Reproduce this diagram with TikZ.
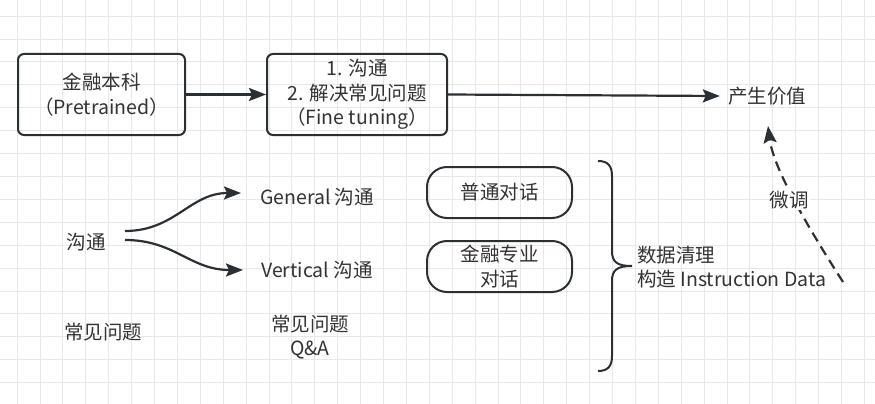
\documentclass[tikz,border=0pt]{standalone}
\usepackage{fontspec}
\setmainfont{Noto Sans CJK SC}
\usetikzlibrary{arrows.meta}
\definecolor{ink}{HTML}{333333}
\definecolor{edge}{HTML}{2B3035}
\definecolor{gridc}{HTML}{E8E8E8}
\tikzset{
  txt/.style={text=ink, font=\fontsize{19.5}{24.5}\selectfont, inner sep=2pt, align=center},
  box/.style={txt, draw=edge, line width=2pt, rounded corners=6pt},
  pill/.style={txt, draw=edge, line width=2pt, rounded corners=20pt, minimum width=145pt, minimum height=51pt},
  arr/.style={draw=edge, line width=2.2pt, -{Stealth[length=17pt,width=13pt,inset=3pt]}},
  darr/.style={arr, dash pattern=on 10pt off 6pt},
  brace/.style={draw=edge, line width=2pt},
  gridline/.style={draw=gridc, line width=0.8pt}
}
\begin{document}
\begin{tikzpicture}[x=1pt,y=-1pt]
\useasboundingbox (0,0) rectangle (875,404);
\fill[white] (0,0) rectangle (875,404);
\foreach \i in {0,...,37} \draw[gridline] ({17+\i*22.9},0) -- ({17+\i*22.9},404);
\foreach \j in {0,...,17} \draw[gridline] (0,{16.1+\j*22.9}) -- (875,{16.1+\j*22.9});

% top row
\node[box, minimum width=167pt, minimum height=81pt] (b1) at (101.5,94.5) {金融本科\\（Pretrained）};
\node[box, minimum width=180pt, minimum height=81pt] (b2) at (357,94.5) {1. 沟通\\2. 解决常见问题\\（Fine tuning）};
\node[txt, inner sep=8pt] (val) at (767,96) {产生价值};
\draw[arr] (b1.east) -- (b2.west);
\draw[arr] (b2.east) -- (val.west);

% fine-tune dashed arrow
\coordinate (dstart) at (843,282);
\coordinate (dtip) at (768,126);
\draw[darr] (dstart) .. controls (800,215) and (773,165) .. (dtip);
\node[txt, fill=white, inner sep=1pt] (wt) at (789,200) {微调};

% left part
\node[txt] (gt) at (86,242) {沟通};
\node[txt] (gen) at (317,197) {General 沟通};
\node[txt] (ver) at (317,270) {Vertical 沟通};
\node[txt] (faq) at (103,332) {常见问题};
\node[txt] (qa) at (310,337) {常见问题\\Q\&A};
\coordinate (g1) at (125,231);
\coordinate (g2) at (125,240);
\coordinate (gtip) at (241,193);
\coordinate (vtip) at (243,270);
\draw[arr] (g1) .. controls (175,231) and (190,193) .. (gtip);
\draw[arr] (g2) .. controls (175,240) and (190,270) .. (vtip);

% pills
\node[pill] (p1) at (499.5,192.5) {普通对话};
\node[pill] (p2) at (499.5,266.5) {金融专业\\对话};

% brace
\coordinate (btop) at (598,161);
\coordinate (btip) at (632,266);
\coordinate (bbot) at (598,371);
\draw[brace] (btop) .. controls (608,161) and (612,166) .. (612,176) -- (612,251)
  .. controls (612,262) and (617,266) .. (btip)
  .. controls (617,266) and (612,270) .. (612,281) -- (612,356)
  .. controls (612,366) and (608,371) .. (bbot);
\node[txt, align=left, anchor=west] (dc) at (635,267) {数据清理\\构造 Instruction Data};
\end{tikzpicture}
\end{document}
